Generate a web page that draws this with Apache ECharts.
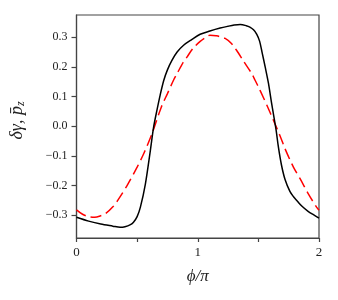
<!DOCTYPE html>
<html>
<head>
<meta charset="utf-8">
<script src="https://cdn.jsdelivr.net/npm/echarts@6/dist/echarts.min.js"></script>
<style>html,body{margin:0;padding:0;background:#fff}#c{width:338px;height:300px}</style>
</head>
<body>
<div id="c"></div>
<script>
// phi/pi values and curve values
const blackX = [0,0.1,0.2,0.3,0.36,0.40,0.445,0.47,0.50,0.527,0.568,0.609,0.636,0.664,0.69,0.72,0.75,0.787,0.83,0.883,0.95,1.02,1.1,1.185,1.25,1.30,1.35,1.40,1.43,1.46,1.487,1.51,1.53,1.556,1.583,1.61,1.645,1.665,1.69,1.72,1.76,1.79,1.82,1.86,1.91,1.96,2.0];
const blackY = [-0.307,-0.320,-0.330,-0.337,-0.341,-0.339,-0.332,-0.324,-0.305,-0.273,-0.195,-0.082,-0.003,0.055,0.105,0.155,0.19,0.222,0.250,0.273,0.292,0.310,0.321,0.331,0.337,0.341,0.343,0.339,0.334,0.325,0.31,0.287,0.25,0.20,0.145,0.075,-0.01,-0.07,-0.13,-0.18,-0.22,-0.238,-0.252,-0.27,-0.287,-0.300,-0.31];
const redX = [0,0.05,0.1,0.15,0.2,0.239,0.3,0.348,0.417,0.5,0.554,0.623,0.70,0.75,0.8,0.829,0.88,0.911,0.96,1.02,1.07,1.1,1.15,1.226,1.28,1.32,1.38,1.446,1.473,1.514,1.583,1.624,1.679,1.72,1.789,1.844,1.912,1.98,2.0];
const redY = [-0.282,-0.297,-0.305,-0.307,-0.302,-0.295,-0.272,-0.245,-0.20,-0.138,-0.093,-0.025,0.065,0.11,0.155,0.177,0.215,0.233,0.262,0.286,0.301,0.307,0.305,0.296,0.278,0.256,0.218,0.177,0.155,0.121,0.059,0.02,-0.033,-0.076,-0.138,-0.177,-0.228,-0.273,-0.283];
const yMin = -0.377, yMax = 0.375;

const zip = (xs, ys) => xs.map((x, i) => [x, ys[i]]);
const font = '"Liberation Serif","DejaVu Serif",serif';
const frame = '#444';

const chart = echarts.init(document.getElementById('c'), null, {renderer: 'canvas'});
chart.setOption({
  animation: false,
  grid: {left: 76, right: 19, top: 15, bottom: 62, show: true, borderColor: frame, borderWidth: 1.2},
  xAxis: {
    type: 'value', min: 0, max: 2, interval: 0.5,
    axisLine: {show: true, onZero: false, lineStyle: {color: frame, width: 1.2}},
    splitLine: {show: false},
    axisTick: {show: true, length: 4, lineStyle: {color: frame, width: 1.2}},
    axisLabel: {margin: 8, fontFamily: font, fontSize: 13, color: '#222',
      formatter: v => (Math.abs(v - Math.round(v)) < 1e-9 ? String(Math.round(v)) : '')},
    name: 'ϕ/π', nameLocation: 'middle', nameGap: 30,
    nameTextStyle: {fontFamily: font, fontStyle: 'italic', fontSize: 17, color: '#222'}
  },
  yAxis: {
    type: 'value', min: yMin, max: yMax, splitNumber: 7,
    axisLine: {show: true, onZero: false, lineStyle: {color: frame, width: 1.2}},
    splitLine: {show: false},
    axisTick: {show: true, length: 5, lineStyle: {color: frame, width: 1.2}},
    axisLabel: {margin: 9, fontFamily: font, fontSize: 12, color: '#222', showMinLabel: false, showMaxLabel: false,
      formatter: v => (v < -1e-9 ? '−' : '') + Math.abs(v).toFixed(1)},
    name: '{a|δγ, p̄}{s|z}', nameLocation: 'middle', nameGap: 50,
    nameTextStyle: {fontFamily: font, fontSize: 18, color: '#222', padding: [0, 0, 0, 12],
      rich: {a: {fontFamily: font, fontStyle: 'italic', fontSize: 18, color: '#222'},
             s: {fontFamily: font, fontStyle: 'italic', fontSize: 12, color: '#222', verticalAlign: 'bottom', padding: [7, 0, 0, 0]}}}
  },
  series: [
    {type: 'line', data: zip(blackX, blackY), showSymbol: false, smooth: 0.3, lineStyle: {color: '#000', width: 1.5}, z: 3},
    {type: 'line', data: zip(redX, redY), showSymbol: false, smooth: 0.3, lineStyle: {color: '#ff0000', width: 1.5, type: [11, 5]}, z: 2}
  ]
});
</script>
</body>
</html>
